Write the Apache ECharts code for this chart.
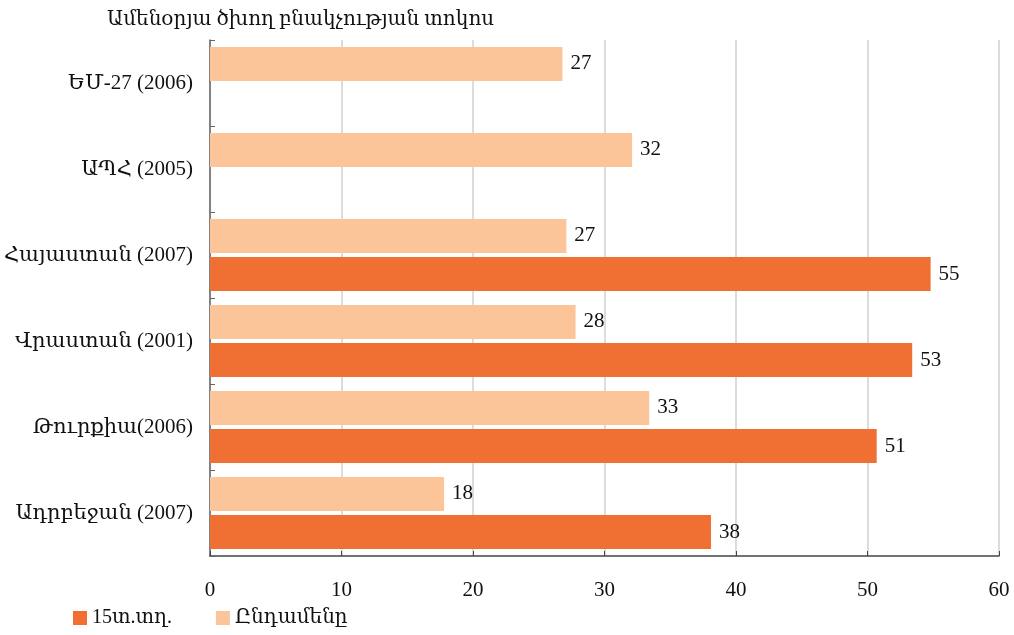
<!DOCTYPE html>
<html>
<head>
<meta charset="utf-8">
<script src="https://cdn.jsdelivr.net/npm/echarts@6/dist/echarts.min.js"></script>
<style>html,body{margin:0;padding:0;background:#fff}#c{width:1014px;height:635px}</style>
</head>
<body>
<div id="c"></div>
<script>
const categories = ["ԵՄ-27 (2006)", "ԱՊՀ (2005)", "Հայաստան (2007)", "Վրաստան (2001)", "Թուրքիա(2006)", "Ադրբեջան (2007)"];
const men15 = [null, null, 54.8, 53.4, 50.7, 38.1];
const total = [26.8, 32.1, 27.1, 27.8, 33.4, 17.8];
const seriesNames = ["15տ.տղ.", "Ընդամենը"];
const titleText = "Ամենօրյա ծխող բնակչության տոկոս";

const FONT = '"Liberation Serif", "DejaVu Serif", serif';
const chart = echarts.init(document.getElementById('c'));
const lbl = {
  show: true, position: 'right', distance: 8, color: '#111', fontSize: 21, fontFamily: FONT,
  formatter: p => Math.round(p.value)
};
chart.setOption({
  animation: false,
  textStyle: { fontFamily: FONT },
  title: { text: titleText, left: 102, top: 5, textStyle: { fontSize: 20, fontWeight: 'normal', color: '#111', fontFamily: FONT } },
  legend: {
    data: seriesNames, left: 68, bottom: 2, icon: 'rect', itemWidth: 14, itemHeight: 14, itemGap: 44,
    textStyle: { fontSize: 20, color: '#111', fontFamily: FONT }
  },
  grid: { left: 210, right: 15, top: 40, bottom: 79, containLabel: false },
  xAxis: {
    type: 'value', min: 0, max: 60, interval: 10,
    axisLine: { show: true, lineStyle: { color: '#444', width: 1.5 } },
    axisTick: { show: true, inside: true, length: 5, lineStyle: { color: '#444' } },
    axisLabel: { fontSize: 21, color: '#111', margin: 24, fontFamily: FONT },
    splitLine: { show: true, lineStyle: { color: '#d0d0d0', width: 1.5 } }
  },
  yAxis: {
    type: 'category', data: categories, inverse: true,
    axisLine: { show: true, lineStyle: { color: '#666', width: 1.5 } },
    axisTick: { show: true, inside: true, length: 5, lineStyle: { color: '#666' } },
    axisLabel: { fontSize: 21, color: '#111', margin: 17, fontFamily: FONT }
  },
  series: [
    { name: seriesNames[1], type: 'bar', data: total, barWidth: 34, barGap: '12%', itemStyle: { color: '#FBC599' }, label: lbl },
    { name: seriesNames[0], type: 'bar', data: men15, barWidth: 34, barGap: '12%', itemStyle: { color: '#F07034' }, label: lbl }
  ]
});
</script>
</body>
</html>
